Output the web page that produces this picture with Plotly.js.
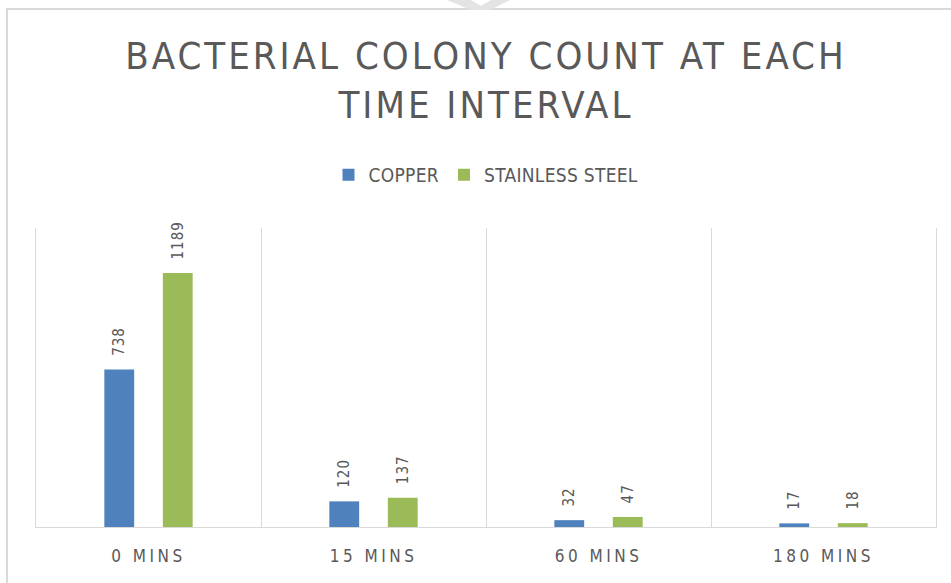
<!DOCTYPE html>
<html>
<head>
<meta charset="utf-8">
<script src="https://cdn.plot.ly/plotly-3.0.1.min.js"></script>
<style>
  html, body { margin: 0; padding: 0; background: #ffffff; width: 951px; height: 583px; overflow: hidden; }
  #chart { position: absolute; left: 6px; top: 8px; width: 943px; height: 573px;
           border-left: 2px solid #d9d9d9; border-top: 2px solid #d9d9d9; }
  #wm { position: absolute; left: 0; top: 0; }
  .gtitle { letter-spacing: 3px; }
  .xtick text { letter-spacing: 3.5px; }
  .legendtext { letter-spacing: 0.3px; }
  .bartext { letter-spacing: 1px; }
</style>
</head>
<body>
<div id="chart"></div>
<svg id="wm" width="951" height="12"><polygon points="447,0 471,0 481,6 491,0 510,0 490,10 471,10" fill="#e3e3e3"/></svg>
<script>
const categories = ["0 MINS", "15 MINS", "60 MINS", "180 MINS"];
const copper = [738, 120, 32, 17];
const stainlessSteel = [1189, 137, 47, 18];
const seriesNames = ["COPPER", "STAINLESS STEEL"];

const textColor = "#595959";
const fontFamily = "Liberation Sans Narrow, DejaVu Sans Condensed, Arial Narrow, sans-serif";
const labelFont = { family: fontFamily, size: 15, color: textColor };

function barTrace(name, values, color) {
  return {
    type: "bar",
    name: name,
    x: categories,
    y: values,
    marker: { color: color },
    text: values.map(v => String(v)),
    texttemplate: "\u00a0\u00a0%{text}",
    textposition: "outside",
    textangle: -90,
    constraintext: "none",
    cliponaxis: false,
    textfont: labelFont,
    hoverinfo: "skip"
  };
}

const data = [
  barTrace(seriesNames[0], copper, "#4f81bd"),
  barTrace(seriesNames[1], stainlessSteel, "#9bbb59")
];

const layout = {
  width: 943,
  height: 573,
  margin: { l: 28, r: 15, t: 218, b: 56 },
  paper_bgcolor: "rgba(0,0,0,0)",
  plot_bgcolor: "rgba(0,0,0,0)",
  title: {
    text: "BACTERIAL COLONY COUNT AT EACH<br>TIME INTERVAL",
    font: { family: fontFamily, size: 38, color: textColor },
    x: 0.5, xanchor: "center", xref: "paper",
    y: 1 - 59 / 573, yanchor: "middle"
  },
  showlegend: true,
  legend: {
    orientation: "h",
    x: 0.5, xanchor: "center",
    y: (517 - 165) / 299, yanchor: "middle",
    font: { family: fontFamily, size: 19, color: textColor },
    itemwidth: 30,
    traceorder: "normal"
  },
  barmode: "group",
  bargap: 0.48,
  bargroupgap: 0.49,
  xaxis: {
    type: "category",
    tickson: "boundaries",
    ticks: "",
    showgrid: true,
    gridcolor: "#d9d9d9",
    gridwidth: 1,
    showline: true,
    linecolor: "#d9d9d9",
    linewidth: 1,
    tickfont: { family: fontFamily, size: 17, color: textColor },
    ticklabelstandoff: 14,
    fixedrange: true
  },
  yaxis: {
    range: [0, 1400],
    showgrid: false,
    zeroline: false,
    showticklabels: false,
    showline: true,
    mirror: true,
    linecolor: "#d9d9d9",
    linewidth: 1,
    fixedrange: true
  }
};

Plotly.newPlot("chart", data, layout, { staticPlot: true, displayModeBar: false });
</script>
</body>
</html>
